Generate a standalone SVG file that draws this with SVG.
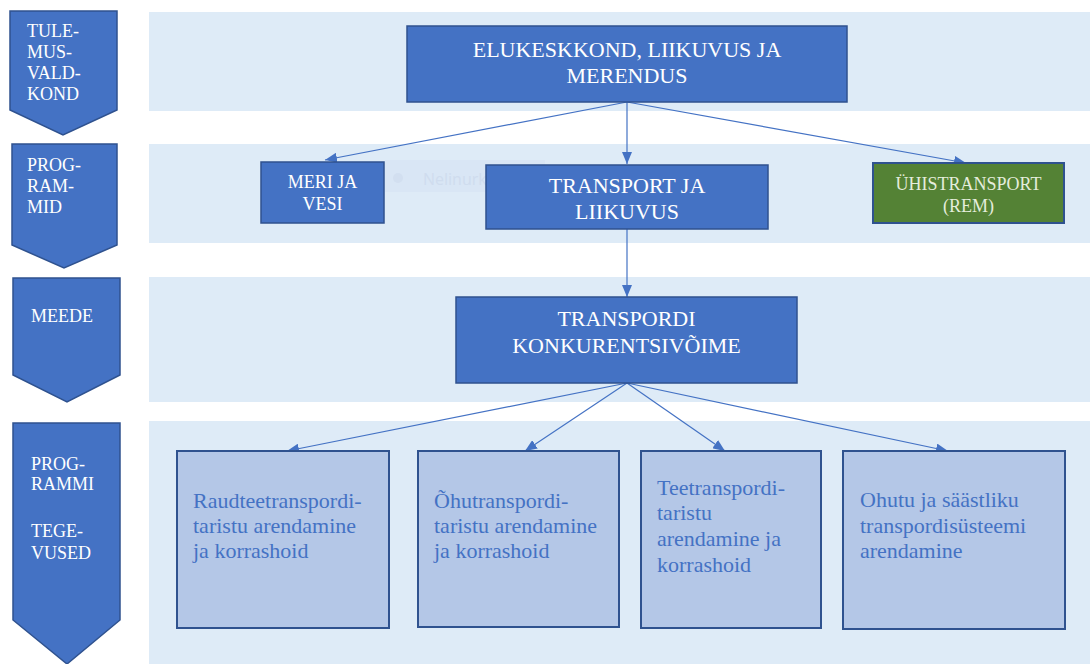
<svg xmlns="http://www.w3.org/2000/svg" width="1090" height="664" viewBox="0 0 1090 664">
<style>
.band{fill:#deebf7}
.chev{fill:#4472c4;stroke:#2f528f;stroke-width:1.5}
.box{fill:#4472c4;stroke:#2f528f;stroke-width:1.5}
.green{fill:#548235;stroke:#2f528f;stroke-width:2}
.light{fill:#b4c7e7;stroke:#2f528f;stroke-width:2}
.t{font-family:"Liberation Serif","Times New Roman",serif;fill:#ffffff}
.c{text-anchor:middle}
.lt{font-family:"Liberation Serif","Times New Roman",serif;fill:#4472c4;font-size:22px}
.conn{stroke:#4472c4;stroke-width:1.2;fill:none;marker-end:url(#ah)}
</style>
<defs>
<marker id="ah" viewBox="0 0 12 10" refX="12" refY="5" markerWidth="12" markerHeight="10" markerUnits="userSpaceOnUse" orient="auto">
<path d="M0,0 L12,5 L0,10 z" fill="#4472c4"/>
</marker>
</defs>
<rect width="1090" height="664" fill="#ffffff"/>
<g id="bands">
<rect class="band" x="149" y="12" width="941" height="99"/>
<rect class="band" x="149" y="144" width="941" height="99"/>
<rect class="band" x="149" y="277" width="941" height="125"/>
<rect class="band" x="149" y="421" width="941" height="243"/>
</g>
<g id="ghost">
<rect x="385" y="160" width="160" height="32" fill="#d9e6f5"/>
<circle cx="398" cy="178" r="5" fill="#d2dff0"/>
<text x="423" y="185" font-family="'Open Sans','Noto Sans',sans-serif" font-size="16" fill="#cfdcee">Nelinurkne lõige</text>
</g>
<g id="level-tulemusvaldkond">
<path class="chev" d="M10,11 H117 V110 L63,135 L10,110 Z"/>
<text class="t" font-size="18"><tspan x="27" y="37">TULE-</tspan><tspan x="27" y="58">MUS-</tspan><tspan x="27" y="79">VALD-</tspan><tspan x="27" y="100">KOND</tspan></text>
</g>
<g id="level-programmid">
<path class="chev" d="M12,144 H117 V245 L64,268 L12,245 Z"/>
<text class="t" font-size="18"><tspan x="27" y="171">PROG-</tspan><tspan x="27" y="192">RAM-</tspan><tspan x="27" y="213">MID</tspan></text>
</g>
<g id="level-meede">
<path class="chev" d="M13,278 H120 V375 L67,402 L13,375 Z"/>
<text class="t" font-size="18" x="31" y="322">MEEDE</text>
</g>
<g id="level-tegevused">
<path class="chev" d="M13,423 H120 V620 L67,664 L13,620 Z"/>
<text class="t" font-size="18"><tspan x="31" y="470">PROG-</tspan><tspan x="31" y="490">RAMMI</tspan><tspan x="31" y="537">TEGE-</tspan><tspan x="31" y="559">VUSED</tspan></text>
</g>
<g id="connectors">
<line class="conn" x1="627" y1="102" x2="325" y2="160"/>
<line class="conn" x1="627" y1="102" x2="627" y2="164"/>
<line class="conn" x1="627" y1="102" x2="966" y2="163"/>
<line class="conn" x1="627" y1="229" x2="627" y2="297"/>
<line class="conn" x1="627" y1="383" x2="287" y2="451"/>
<line class="conn" x1="627" y1="383" x2="525" y2="451"/>
<line class="conn" x1="627" y1="383" x2="725" y2="451"/>
<line class="conn" x1="627" y1="383" x2="948" y2="451"/>
</g>
<g id="node-elukeskkond">
<rect class="box" x="407" y="26" width="440" height="76"/>
<text class="t c" font-size="22"><tspan x="627" y="57">ELUKESKKOND, LIIKUVUS JA</tspan><tspan x="627" y="83">MERENDUS</tspan></text>
</g>
<g id="node-meri">
<rect class="box" x="261" y="162" width="123" height="61"/>
<text class="t c" font-size="18"><tspan x="322.5" y="188">MERI JA</tspan><tspan x="322.5" y="210">VESI</tspan></text>
</g>
<g id="node-transport">
<rect class="box" x="486" y="165" width="282" height="64"/>
<text class="t c" font-size="22"><tspan x="627" y="193">TRANSPORT JA</tspan><tspan x="627" y="219">LIIKUVUS</tspan></text>
</g>
<g id="node-yhistransport">
<rect class="green" x="873" y="163" width="191" height="60"/>
<text class="t c" font-size="18" fill="#e4eddc" style="fill:#e4eddc"><tspan x="968.5" y="190">ÜHISTRANSPORT</tspan><tspan x="968.5" y="212">(REM)</tspan></text>
</g>
<g id="node-konkurentsivoime">
<rect class="box" x="456" y="297" width="341" height="86"/>
<text class="t c" font-size="22"><tspan x="626.5" y="326">TRANSPORDI</tspan><tspan x="626.5" y="353">KONKURENTSIVÕIME</tspan></text>
</g>
<g id="node-raudtee">
<rect class="light" x="177" y="451" width="212" height="177"/>
<text class="lt"><tspan x="193" y="508">Raudteetranspordi-</tspan><tspan x="193" y="533">taristu arendamine</tspan><tspan x="193" y="558">ja korrashoid</tspan></text>
</g>
<g id="node-ohu">
<rect class="light" x="418" y="451" width="201" height="176"/>
<text class="lt"><tspan x="434" y="508">Õhutranspordi-</tspan><tspan x="434" y="533">taristu arendamine</tspan><tspan x="434" y="558">ja korrashoid</tspan></text>
</g>
<g id="node-tee">
<rect class="light" x="641" y="451" width="180" height="177"/>
<text class="lt"><tspan x="657" y="495">Teetranspordi-</tspan><tspan x="657" y="520">taristu</tspan><tspan x="657" y="546">arendamine ja</tspan><tspan x="657" y="572">korrashoid</tspan></text>
</g>
<g id="node-ohutu">
<rect class="light" x="843" y="451" width="222" height="178"/>
<text class="lt"><tspan x="860" y="507">Ohutu ja säästliku</tspan><tspan x="860" y="533">transpordisüsteemi</tspan><tspan x="860" y="558">arendamine</tspan></text>
</g>
</svg>
